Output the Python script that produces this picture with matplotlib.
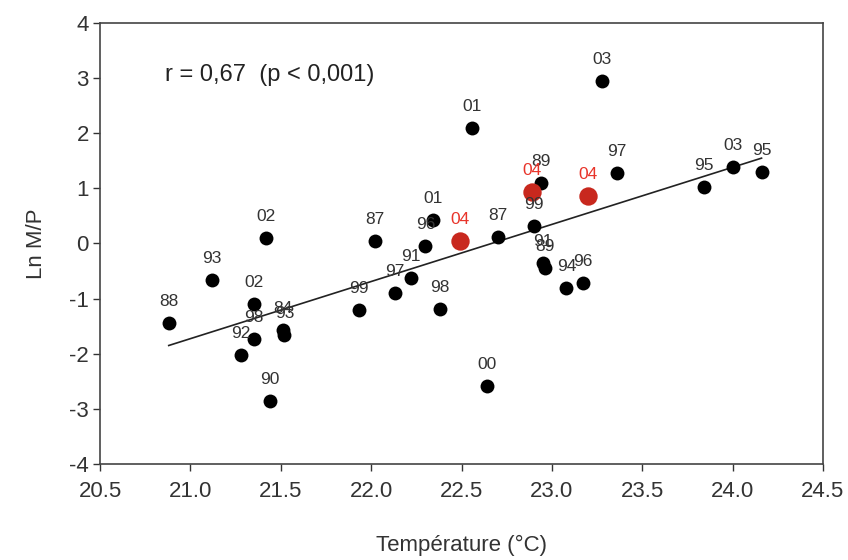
import numpy as np
import matplotlib.pyplot as plt

plt.rcParams['font.family'] = ['Liberation Sans', 'DejaVu Sans']
plt.rcParams['axes.unicode_minus'] = False

# temperature (degC), ln M/P, year label
temp = [20.88, 21.12, 21.42, 21.35, 21.35, 21.28, 21.51, 21.52, 21.44,
        21.93, 22.02, 22.13, 22.22, 22.30, 22.34, 22.38, 22.70, 22.56,
        22.64, 22.90, 22.94, 22.95, 22.96, 23.08, 23.17, 23.36, 23.28,
        23.84, 24.00, 24.16]
lnmp = [-1.44, -0.66, 0.10, -1.10, -1.73, -2.02, -1.57, -1.66, -2.86,
        -1.21, 0.05, -0.90, -0.63, -0.05, 0.43, -1.19, 0.12, 2.10,
        -2.59, 0.32, 1.09, -0.35, -0.44, -0.81, -0.72, 1.28, 2.95,
        1.03, 1.39, 1.30]
years = ['88', '93', '02', '02', '98', '92', '84', '93', '90',
         '99', '87', '97', '91', '96', '01', '98', '87', '01',
         '00', '99', '89', '91', '89', '94', '96', '97', '03',
         '95', '03', '95']

# 2004 points (highlighted)
temp04 = [22.49, 22.89, 23.20]
lnmp04 = [0.04, 0.93, 0.86]
years04 = ['04', '04', '04']

fig = plt.figure(figsize=(8.48, 5.60), dpi=100)
ax = fig.add_axes([0.118, 0.1714, 0.8525, 0.7876])

# regression line over all points
all_x = np.array(temp + temp04)
all_y = np.array(lnmp + lnmp04)
a, b = np.polyfit(all_x, all_y, 1)
xl = np.array([all_x.min(), all_x.max()])
ax.plot(xl, a * xl + b, color='#222222', lw=1.2, zorder=2)

ax.scatter(temp, lnmp, s=100, color='black', zorder=3, linewidths=0)
ax.scatter(temp04, lnmp04, s=175, color='#c8281e', zorder=4, linewidths=0)

for x, y, t in zip(temp, lnmp, years):
    ax.annotate(t, (x, y), xytext=(0, 15.5), textcoords='offset points',
                ha='center', va='center', fontsize=12.5, color='#333333', zorder=5)
for x, y, t in zip(temp04, lnmp04, years04):
    ax.annotate(t, (x, y), xytext=(0, 15.5), textcoords='offset points',
                ha='center', va='center', fontsize=12.5, color='#e8342a', zorder=5)

ax.text(20.86, 3.06, 'r = 0,67  (p < 0,001)', fontsize=17, va='center',
        ha='left', color='#222222')

ax.set_xlim(20.5, 24.5)
ax.set_ylim(-4, 4)
ax.set_xticks(np.arange(20.5, 24.51, 0.5))
ax.set_xticklabels(['%.1f' % v for v in np.arange(20.5, 24.51, 0.5)])
ax.set_yticks(range(-4, 5))
ax.tick_params(direction='out', length=5, width=1, labelsize=16,
               colors='#333333', pad=3)
ax.tick_params(axis='x', pad=7)
for sp in ax.spines.values():
    sp.set_color('#444444')
    sp.set_linewidth(1.2)

ax.set_xlabel('Température (°C)', fontsize=16, color='#333333', labelpad=24)
ax.set_ylabel('Ln M/P', fontsize=16, color='#333333', labelpad=16)

fig.savefig('out.png', dpi=100)
